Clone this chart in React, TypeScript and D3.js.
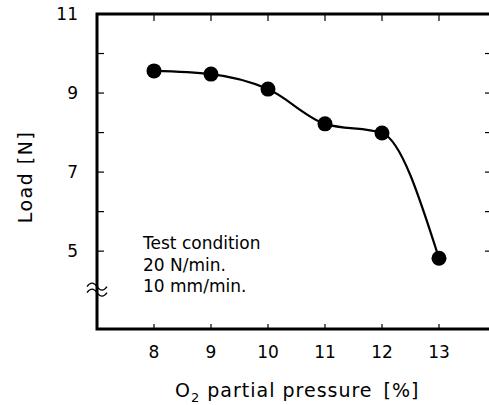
import React from 'react'
import * as d3 from 'd3'

// O2 partial pressure [%] vs load [N]
const pressure = [8, 9, 10, 11, 12, 13]
const load = [9.56, 9.48, 9.1, 8.22, 7.99, 4.82]
const xTicks = [8, 9, 10, 11, 12, 13]
const yTicks = [5, 6, 7, 8, 9, 10]
const yLabels = [5, 7, 9, 11]
const notes = ['Test condition', '20 N/min.', '10 mm/min.']

const W = 489
const H = 405
const font = '"DejaVu Sans", Arial, sans-serif'

export default function App() {
  const x = d3.scaleLinear().domain([7, 13.93]).range([97, 492])
  const y = d3.scaleLinear().domain([3.03, 11]).range([329, 14])
  const [x0, x1] = x.range()
  const [yb, yt] = y.range()

  const line = d3.line<number>()
    .x((d, i) => x(pressure[i]))
    .y(d => y(d))
    .curve(d3.curveMonotoneX)

  const tk = 7 // tick length, inward
  const brkY = y(4.1)
  const wave = (dy: number) =>
    `M${x0 - 10},${brkY + dy + 3} q5,-7 10,0 t10,0`

  return (
    <svg width={W} height={H} style={{position: 'absolute', left: 0, top: 0, background: '#fff'}}
      fontFamily={font}>
      {/* curve and markers */}
      <path d={line(load) || ''} fill="none" stroke="#000" strokeWidth={2.2} />
      {load.map((d, i) => (
        <circle key={i} cx={x(pressure[i])} cy={y(d)} r={7.5} fill="#000" />
      ))}

      {/* frame */}
      <rect x={x0} y={yt} width={x1 - x0} height={yb - yt} fill="none" stroke="#000" strokeWidth={3} />

      {/* ticks */}
      {xTicks.map(t => (
        <g key={'x' + t} stroke="#000" strokeWidth={1.2}>
          <line x1={x(t)} x2={x(t)} y1={yb} y2={yb - tk + 2} />
          <line x1={x(t)} x2={x(t)} y1={yt} y2={yt + tk} />
        </g>
      ))}
      {yTicks.map(t => (
        <g key={'y' + t} stroke="#000" strokeWidth={1.2}>
          <line x1={x0} x2={x0 + tk} y1={y(t)} y2={y(t)} />
          <line x1={x1} x2={x1 - tk} y1={y(t)} y2={y(t)} />
        </g>
      ))}

      {/* axis break */}
      <path d={wave(-3)} fill="none" stroke="#000" strokeWidth={1.2} />
      <path d={wave(3)} fill="none" stroke="#000" strokeWidth={1.2} />

      {/* tick labels */}
      {xTicks.map(t => (
        <text key={'xl' + t} x={x(t)} y={358} textAnchor="middle" fontSize={17}>{t}</text>
      ))}
      {yLabels.map(t => (
        <text key={'yl' + t} x={78} y={y(t) + 6} textAnchor="end" fontSize={17}>{t}</text>
      ))}

      {/* axis titles */}
      <text x={175} y={397} fontSize={19} letterSpacing={1}>
        O<tspan fontSize={13} dy={5}>2</tspan><tspan dy={-5}> partial pressure</tspan>
        <tspan dx={11}>[%]</tspan>
      </text>
      <text transform={`translate(32,177) rotate(-90)`} textAnchor="middle" fontSize={19} letterSpacing={1.5}>
        Load [N]
      </text>

      {/* test condition note */}
      {notes.map((n, i) => (
        <text key={n} x={143} y={249 + i * 21.5} fontSize={17}>{n}</text>
      ))}
    </svg>
  )
}
